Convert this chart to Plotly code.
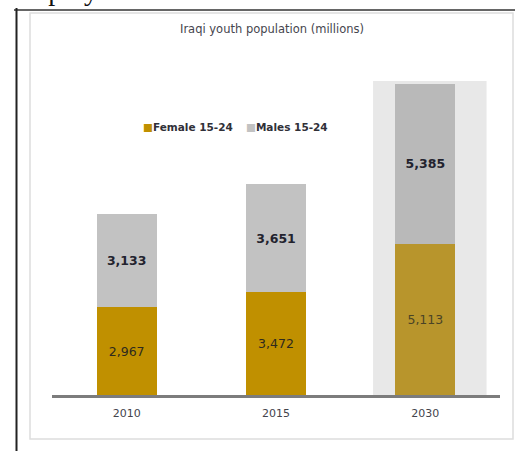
import plotly.graph_objects as go

# Iraqi youth population, thousands per age/sex group
years = ["2010", "2015", "2030"]
female = [2967, 3472, 5113]
male = [3133, 3651, 5385]

female_colors = ["#C09000", "#C09000", "#B8952C"]
male_colors = ["#C2C2C2", "#C2C2C2", "#B9B9B9"]
female_text_colors = ["#2E2A1E", "#2E2A1E", "#4A4426"]

# figure geometry (pixels)
FIG_W, FIG_H = 515, 451
L, R, T, B = 52, 15, 60, 56
PW, PH = FIG_W - L - R, FIG_H - T - B


def px_x(px):
    return (px - L) / PW


def px_y(py):
    return (FIG_H - B - py) / PH


FONT = "DejaVu Sans"

fig = go.Figure()
fig.add_trace(go.Bar(
    x=years, y=female, name="Female 15-24",
    marker=dict(color=female_colors, line=dict(width=0)),
    texttemplate="%{y:,}", textposition="inside", insidetextanchor="middle",
    textangle=0, constraintext="none",
    textfont=dict(family=FONT, size=12.5, color=female_text_colors),
    width=0.4, hoverinfo="skip",
))
fig.add_trace(go.Bar(
    x=years, y=male, name="Males 15-24",
    marker=dict(color=male_colors, line=dict(width=0)),
    texttemplate="<b>%{y:,}</b>", textposition="inside", insidetextanchor="middle",
    textangle=0, constraintext="none",
    textfont=dict(family=FONT, size=12.5, color="#23232E"),
    width=0.4, hoverinfo="skip",
))

shapes = [
    # projection highlight behind 2030
    dict(type="rect", xref="x", yref="paper", x0=1.65, x1=2.41, y0=0, y1=px_y(81),
         fillcolor="#E8E8E8", line=dict(width=0), layer="below"),
    # chart frame
    dict(type="rect", xref="paper", yref="paper",
         x0=px_x(30), x1=px_x(513), y0=px_y(439), y1=px_y(13),
         line=dict(color="#DDDDDD", width=1.5), fillcolor="rgba(0,0,0,0)"),
    # page rules
    dict(type="line", xref="paper", yref="paper",
         x0=px_x(14), x1=px_x(515), y0=px_y(10), y1=px_y(10),
         line=dict(color="#333333", width=1.5)),
    dict(type="line", xref="paper", yref="paper",
         x0=px_x(16.5), x1=px_x(16.5), y0=px_y(8), y1=px_y(452),
         line=dict(color="#222222", width=2)),
]

annotations = [
    dict(xref="paper", yref="paper", x=px_x(141), y=px_y(127),
         xanchor="left", yanchor="middle", showarrow=False,
         text="<span style='color:#C09000'>■</span><b>Female 15-24</b>",
         font=dict(family=FONT, size=10.5, color="#303038")),
    dict(xref="paper", yref="paper", x=px_x(244), y=px_y(127),
         xanchor="left", yanchor="middle", showarrow=False,
         text="<span style='color:#C2C2C2'>■</span><b>Males 15-24</b>",
         font=dict(family=FONT, size=10.5, color="#303038")),
    dict(xref="paper", yref="paper", x=px_x(12), y=px_y(8),
         xanchor="left", yanchor="bottom", showarrow=False,
         text="employment",
         font=dict(family="Liberation Serif", size=28, color="#111111")),
]

fig.update_layout(
    width=FIG_W, height=FIG_H,
    margin=dict(l=L, r=R, t=T, b=B),
    paper_bgcolor="white", plot_bgcolor="white",
    barmode="stack", showlegend=False,
    title=dict(text="Iraqi youth population (millions)",
               x=272 / FIG_W, xanchor="center", y=1 - 29 / FIG_H, yanchor="middle",
               font=dict(family=FONT, size=11.5, color="#46464E")),
    xaxis=dict(type="category", range=[-0.5, 2.5], showgrid=False, zeroline=False,
               showline=True, linecolor="#7C7C7C", linewidth=2.5, ticks="",
               ticklabelstandoff=6,
               tickfont=dict(family=FONT, size=11, color="#44444C")),
    yaxis=dict(range=[0, PH / 0.02963], visible=False, showgrid=False, zeroline=False),
    shapes=shapes, annotations=annotations,
)

fig.write_html("out.html")
